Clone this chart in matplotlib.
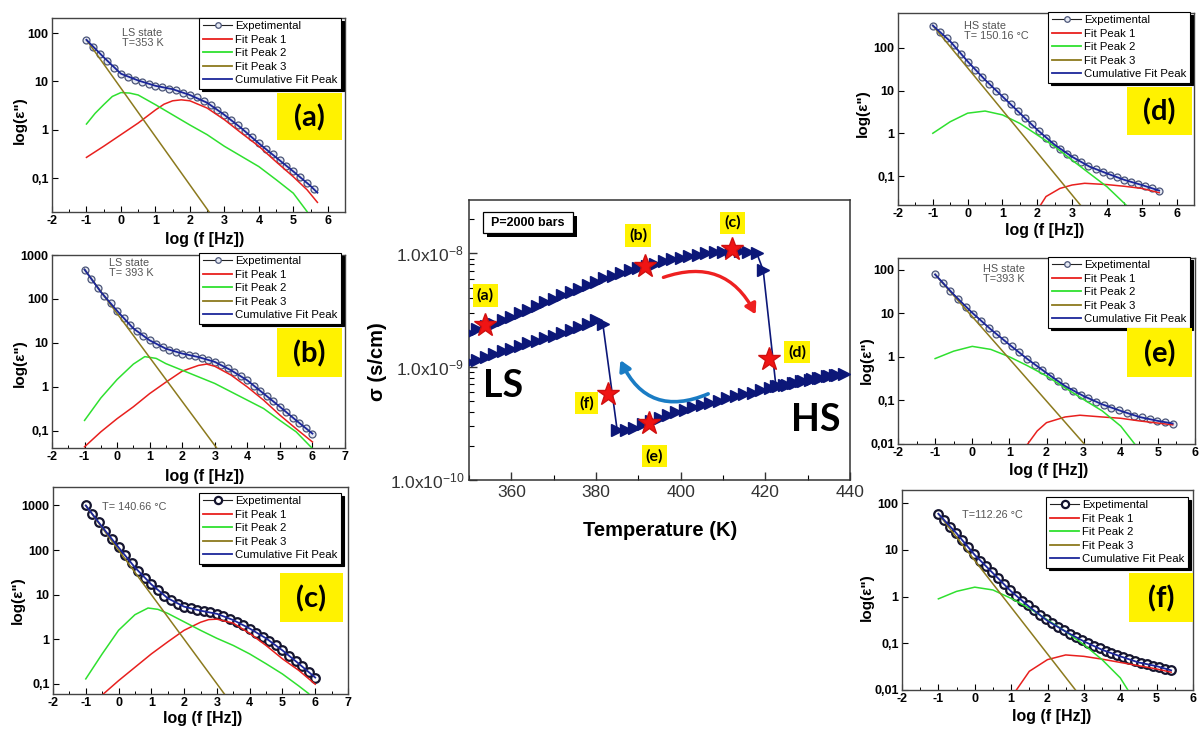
import numpy as np
import matplotlib
matplotlib.use('Agg')
import matplotlib.pyplot as plt
from matplotlib.patches import Rectangle, FancyArrowPatch
from matplotlib.lines import Line2D
from matplotlib.ticker import FixedLocator, FixedFormatter, MultipleLocator, LogLocator, NullFormatter

plt.rcParams['font.family'] = ['Liberation Sans', 'DejaVu Sans']
plt.rcParams['mathtext.fontset'] = 'custom'
plt.rcParams['mathtext.rm'] = 'Liberation Sans'
plt.rcParams['mathtext.it'] = 'Liberation Sans:italic'
plt.rcParams['mathtext.bf'] = 'Liberation Sans:bold'
plt.rcParams['axes.unicode_minus'] = False

W, H = 1201, 735

# +++ dielectric loss spectra, values are log10(eps'') +++

# (a) LS state, T=353 K
a_exp   = [1.86, 1.72, 1.57, 1.42, 1.28, 1.16, 1.09, 1.04, 0.99, 0.95, 0.91, 0.88, 0.85, 0.82, 0.77, 0.72, 0.67,
           0.60, 0.51, 0.41, 0.31, 0.20, 0.09, -0.03, -0.15, -0.28, -0.39, -0.51, -0.63, -0.74, -0.86, -0.98, -1.10, -1.23]
a_cum_x = [-1, -0.5, 0, 0.5, 1, 1.5, 2, 2.5, 3, 3.5, 4, 4.5, 5, 5.5, 5.7]
a_cum   = [1.86, 1.50, 1.16, 1.02, 0.91, 0.84, 0.72, 0.56, 0.31, 0.03, -0.28, -0.57, -0.86, -1.16, -1.30]
a_p1_x  = [-1, -0.5, 0, 0.5, 1, 1.25, 1.5, 1.75, 2, 2.5, 3, 3.5, 4, 4.5, 5, 5.4, 5.7]
a_p1    = [-0.57, -0.34, -0.10, 0.14, 0.41, 0.53, 0.60, 0.62, 0.60, 0.45, 0.21, -0.07, -0.34, -0.66, -0.97, -1.24, -1.50]
a_p2_x  = [-1, -0.75, -0.5, -0.25, 0, 0.25, 0.5, 1, 1.5, 2, 2.5, 3, 3.5, 4, 4.5, 5, 5.4]
a_p2    = [0.12, 0.34, 0.52, 0.69, 0.77, 0.76, 0.72, 0.52, 0.31, 0.10, -0.10, -0.34, -0.55, -0.76, -1.03, -1.31, -1.69]
a_p3_x  = [-1, 2.7]
a_p3    = [1.86, -1.84]

# (b) LS state, T=393 K
b_exp   = [2.67, 2.46, 2.26, 2.07, 1.90, 1.73, 1.57, 1.41, 1.27, 1.16, 1.06, 0.98, 0.90, 0.84, 0.80, 0.76, 0.73, 0.70,
           0.66, 0.62, 0.57, 0.50, 0.42, 0.33, 0.24, 0.15, 0.03, -0.09, -0.21, -0.33, -0.45, -0.57, -0.70, -0.82, -0.94, -1.06]
b_cum_x = [-1, -0.5, 0, 0.5, 1, 1.5, 2, 2.5, 3, 3.5, 4, 4.5, 5, 5.5, 6]
b_cum   = [2.67, 2.16, 1.73, 1.33, 1.06, 0.87, 0.76, 0.68, 0.57, 0.38, 0.15, -0.15, -0.45, -0.76, -1.06]
b_p1_x  = [-1, -0.5, 0, 0.5, 1, 1.5, 2, 2.5, 2.75, 3, 3.5, 4, 4.5, 5, 5.5, 6]
b_p1    = [-1.36, -1.02, -0.72, -0.45, -0.15, 0.11, 0.36, 0.49, 0.52, 0.47, 0.27, 0.0, -0.30, -0.64, -0.95, -1.25]
b_p2_x  = [-1, -0.5, 0, 0.5, 0.85, 1.2, 1.5, 2, 2.5, 3, 3.5, 4, 4.5, 5, 5.5, 6]
b_p2    = [-0.76, -0.25, 0.17, 0.52, 0.69, 0.65, 0.53, 0.38, 0.23, 0.08, -0.11, -0.30, -0.49, -0.76, -1.02, -1.40]
b_p3_x  = [-1, 3.2]
b_p3    = [2.67, -1.53]

# (c) T=140.66 C
c_exp   = [3.00, 2.81, 2.62, 2.43, 2.24, 2.06, 1.88, 1.70, 1.53, 1.37, 1.23, 1.10, 0.97, 0.88, 0.80, 0.73, 0.69, 0.66,
           0.63, 0.60, 0.57, 0.52, 0.46, 0.39, 0.32, 0.24, 0.15, 0.06, -0.03, -0.14, -0.25, -0.37, -0.49, -0.61, -0.74, -0.86]
c_cum_x = [-1, -0.5, 0, 0.5, 1, 1.5, 2, 2.5, 3, 3.5, 4, 4.5, 5, 5.5, 6]
c_cum   = [3.0, 2.52, 2.06, 1.61, 1.23, 0.92, 0.73, 0.64, 0.57, 0.43, 0.24, 0.02, -0.25, -0.55, -0.86]
c_p1_x  = [-1, -0.45, 0, 0.5, 1, 1.5, 2, 2.5, 2.75, 3, 3.5, 4, 4.5, 5, 5.5, 6]
c_p1    = [-1.55, -1.22, -0.93, -0.63, -0.33, -0.06, 0.20, 0.38, 0.44, 0.45, 0.36, 0.13, -0.14, -0.44, -0.70, -1.01]
c_p2_x  = [-1, -0.5, 0, 0.5, 0.9, 1.2, 1.5, 2, 2.5, 3, 3.5, 4, 4.5, 5, 5.5, 5.8]
c_p2    = [-0.89, -0.33, 0.20, 0.55, 0.70, 0.67, 0.58, 0.39, 0.20, 0.02, -0.14, -0.33, -0.55, -0.78, -1.05, -1.22]
c_p3_x  = [-1, 3.35]
c_p3    = [3.0, -1.35]

# (d) HS state, T=150.16 C
d_exp   = [2.52, 2.37, 2.22, 2.06, 1.86, 1.67, 1.49, 1.32, 1.15, 0.99, 0.84, 0.68, 0.52, 0.36, 0.21, 0.05, -0.10,
           -0.24, -0.37, -0.48, -0.58, -0.68, -0.77, -0.84, -0.91, -0.97, -1.03, -1.09, -1.14, -1.19, -1.23, -1.28, -1.34]
d_cum_x = [-1, -0.5, 0, 0.5, 1, 1.5, 2, 2.5, 3, 3.5, 4, 4.5, 5, 5.5]
d_cum   = [2.52, 2.15, 1.68, 1.25, 0.86, 0.47, 0.08, -0.27, -0.55, -0.78, -0.94, -1.09, -1.21, -1.34]
d_p1_x  = [2.0, 2.25, 2.65, 3.0, 3.36, 4.0, 4.5, 5.0, 5.5]
d_p1    = [-1.80, -1.48, -1.29, -1.21, -1.17, -1.20, -1.24, -1.29, -1.39]
d_p2_x  = [-1, -0.5, 0, 0.5, 1, 1.5, 2, 2.5, 3, 3.5, 4, 4.5, 4.7]
d_p2    = [0.0, 0.27, 0.47, 0.52, 0.43, 0.23, -0.04, -0.31, -0.63, -0.94, -1.25, -1.64, -1.80]
d_p3_x  = [-1, 3.4]
d_p3    = [2.52, -1.84]

# (e) HS state, T=393 K
e_exp   = [1.89, 1.69, 1.51, 1.33, 1.15, 0.99, 0.83, 0.67, 0.52, 0.38, 0.24, 0.10, -0.05, -0.18, -0.30, -0.43,
           -0.55, -0.67, -0.78, -0.87, -0.95, -1.03, -1.10, -1.17, -1.23, -1.29, -1.35, -1.39, -1.43, -1.47, -1.50, -1.53]
e_cum_x = [-1, -0.5, 0, 0.5, 1, 1.5, 2, 2.5, 3, 3.5, 4, 4.5, 5, 5.4]
e_cum   = [1.89, 1.43, 1.01, 0.63, 0.28, -0.06, -0.37, -0.67, -0.90, -1.09, -1.24, -1.38, -1.47, -1.53]
e_p1_x  = [1.45, 1.75, 2.0, 2.5, 2.9, 3.5, 4.0, 4.5, 5.0, 5.4]
e_p1    = [-2.05, -1.70, -1.51, -1.38, -1.34, -1.38, -1.41, -1.47, -1.52, -1.56]
e_p2_x  = [-1, -0.5, 0, 0.5, 1, 1.5, 2, 2.5, 3, 3.5, 4, 4.45]
e_p2    = [-0.04, 0.13, 0.24, 0.17, 0.0, -0.21, -0.44, -0.71, -0.98, -1.24, -1.59, -2.08]
e_p3_x  = [-1, 3.1]
e_p3    = [1.89, -2.08]

# (f) T=112.26 C
f_exp   = [1.77, 1.63, 1.49, 1.36, 1.21, 1.06, 0.90, 0.77, 0.65, 0.52, 0.39, 0.26, 0.13, 0.02, -0.09, -0.19, -0.29,
           -0.39, -0.49, -0.57, -0.65, -0.72, -0.80, -0.86, -0.93, -0.99, -1.05, -1.11, -1.16, -1.21, -1.26, -1.30,
           -1.34, -1.39, -1.42, -1.45, -1.48, -1.51, -1.55, -1.58]
f_cum_x = [-1, -0.5, 0, 0.5, 1, 1.5, 2, 2.5, 3, 3.5, 4, 4.5, 5, 5.4]
f_cum   = [1.77, 1.35, 0.89, 0.50, 0.11, -0.22, -0.52, -0.75, -0.96, -1.14, -1.28, -1.41, -1.49, -1.58]
f_p1_x  = [1.1, 1.5, 2.0, 2.5, 3.0, 3.5, 4.0, 4.5, 5.0, 5.4]
f_p1    = [-2.05, -1.60, -1.35, -1.25, -1.28, -1.34, -1.41, -1.48, -1.55, -1.62]
f_p2_x  = [-1, -0.5, 0, 0.5, 1, 1.5, 2, 2.5, 3, 3.5, 4, 4.25]
f_p2    = [-0.05, 0.11, 0.20, 0.14, -0.04, -0.25, -0.50, -0.75, -1.03, -1.35, -1.74, -2.05]
f_p3_x  = [-1, 2.85]
f_p3    = [1.77, -2.08]

legendNames = ['Expetimental', 'Fit Peak 1', 'Fit Peak 2', 'Fit Peak 3', 'Cumulative Fit Peak']

# +++ conductivity loop, values are log10(sigma) +++
upT   = [350, 352, 354, 356, 358, 360, 362, 364, 366, 368, 370, 372, 374, 376, 378, 380, 382, 384, 386, 388,
         390, 392, 394, 396, 398, 400, 402, 404, 406, 408, 410, 412, 414, 416, 418, 419.5,
         422.5, 424.5, 426.5, 428.5, 430.5, 432.5, 434.5, 436.5, 438.5]
upSig = [-8.70, -8.67, -8.64, -8.62, -8.59, -8.56, -8.53, -8.50, -8.46, -8.43, -8.40, -8.37, -8.34, -8.31, -8.28,
         -8.25, -8.22, -8.20, -8.17, -8.15, -8.13, -8.11, -8.09, -8.07, -8.05, -8.04, -8.02, -8.01, -8.00, -7.99,
         -7.985, -7.98, -7.98, -7.99, -8.00, -8.15,
         -9.17, -9.16, -9.145, -9.13, -9.115, -9.10, -9.085, -9.075, -9.065]
loT   = [350, 352, 354, 356, 358, 360, 362, 364, 366, 368, 370, 372, 374, 376, 378, 380, 381.6,
         385, 387, 389, 391, 393, 395, 397, 399, 401, 403, 405, 407, 409, 411, 413, 415, 417, 419, 421, 423,
         425, 427, 429, 431, 433, 435, 437]
loSig = [-8.96, -8.94, -8.91, -8.89, -8.86, -8.84, -8.82, -8.79, -8.77, -8.75, -8.73, -8.70, -8.68, -8.65, -8.62,
         -8.59, -8.62,
         -9.56, -9.56, -9.54, -9.51, -9.48, -9.45, -9.43, -9.40, -9.38, -9.36, -9.34, -9.32, -9.30, -9.28, -9.26,
         -9.24, -9.23, -9.21, -9.19, -9.17, -9.16, -9.14, -9.13, -9.11, -9.10, -9.08, -9.07]
starT    = [353.8, 391.6, 412.2, 420.8, 392.6, 382.8]
starSig  = [-8.63, -8.11, -7.96, -8.93, -9.50, -9.24]
tagNames = ['(a)', '(b)', '(c)', '(d)', '(e)', '(f)']
tagT     = [353.8, 390.0, 412.2, 427.5, 393.8, 377.7]
tagSig   = [-8.37, -7.84, -7.73, -8.87, -9.79, -9.32]

cRed   = '#e8201e'
cGreen = '#2fe02f'
cOlive = '#8c7a1e'
cBlue  = '#1b269a'
cYell  = '#fff200'

fig = plt.figure(figsize=(W / 100, H / 100), dpi=100)


def rect(x0, y0, x1, y1):
  return [x0 / W, 1 - y1 / H, (x1 - x0) / W, (y1 - y0) / H]


def px(x, y):
  return x / W, 1 - y / H


def tag_box(x0, y0, x1, y1, txt):
  fig.add_artist(Rectangle(px(x0, y1), (x1 - x0) / W, (y1 - y0) / H, transform=fig.transFigure,
                           facecolor=cYell, edgecolor='none', zorder=5))
  fig.text(*px((x0 + x1) / 2, (y0 + y1) / 2 + 1), txt, ha='center', va='center', fontsize=21,
           fontweight='bold', family=['Lato', 'DejaVu Sans'], zorder=6)


yLabelMap = {0.01: '0,01', 0.1: '0,1', 1: '1', 10: '10', 100: '100', 1000: '1000'}


def spectrum(box, xEnd, exp, cumX, cum, p1X, p1, p2X, p2, p3X, p3, xlim, ylim, yticks, xmax_tick,
             note, noteXY, legXY, tag, tagPx, xlabXY, ylabXY, heavy=False):
  x0, y0, x1, y1 = box
  ax = fig.add_axes(rect(*box))
  ax.set_yscale('log')
  ex = np.linspace(-1, xEnd, len(exp))
  if heavy:
    mk = dict(marker='o', ms=6.2, mew=1.6, mec='#14142e', mfc='white')
  else:
    mk = dict(marker='o', ms=5, mew=0.9, mec='#4b5578', mfc='#e4e8f2')
  ax.plot(ex, 10 ** np.array(exp), '-', color='#222222', lw=0.6, zorder=2, **mk)
  ax.plot(p1X, 10 ** np.array(p1), color=cRed, lw=1.1, zorder=3)
  ax.plot(p2X, 10 ** np.array(p2), color=cGreen, lw=1.1, zorder=3)
  ax.plot(p3X, 10 ** np.array(p3), color=cOlive, lw=1.1, zorder=3)
  ax.plot(cumX, 10 ** np.array(cum), color=cBlue, lw=1.3, zorder=4)
  ax.set_xlim(*xlim)
  ax.set_ylim(*ylim)
  ax.set_xticks(list(range(-2, xmax_tick + 1)))
  ax.xaxis.set_minor_locator(MultipleLocator(0.5))
  ax.yaxis.set_major_locator(FixedLocator(yticks))
  ax.yaxis.set_major_formatter(FixedFormatter([yLabelMap[t] for t in yticks]))
  ax.yaxis.set_minor_locator(FixedLocator([]))
  ax.tick_params(direction='in', length=4, width=0.8, labelsize=9, pad=2.5)
  ax.tick_params(which='minor', direction='in', length=2.5, width=0.7)
  for lbl in ax.get_xticklabels() + ax.get_yticklabels():
    lbl.set_fontweight('bold')
  for s in ax.spines.values():
    s.set_color('#444444')
    s.set_linewidth(1.0)
  handles = [Line2D([], [], color='#222222', lw=0.8, **dict(mk, ms=mk['ms'] - 1)),
             Line2D([], [], color=cRed, lw=1.3),
             Line2D([], [], color=cGreen, lw=1.3),
             Line2D([], [], color=cOlive, lw=1.3),
             Line2D([], [], color=cBlue, lw=1.3)]
  ax_x = (legXY[0] - x0) / (x1 - x0)
  ax_y = (y1 - legXY[1]) / (y1 - y0)
  leg = ax.legend(handles, legendNames, loc='upper right', bbox_to_anchor=(ax_x, ax_y), borderaxespad=0,
                  fontsize=8.2, labelspacing=0.3, borderpad=0.3, handlelength=2.6, handletextpad=0.25,
                  fancybox=False, framealpha=1, edgecolor='black', shadow={'color': 'black', 'alpha': 1})
  leg.get_frame().set_linewidth(0.8)
  leg.set_zorder(6)
  fig.text(*px(*noteXY), note, ha='left', va='center', fontsize=7.8, color='#555555', linespacing=1.1)
  fig.text(*px(*xlabXY), 'log (f [Hz])', ha='center', va='center', fontsize=11.5, fontweight='bold')
  fig.text(*px(*ylabXY), 'log(ε")', ha='center', va='center', fontsize=11, fontweight='bold', rotation=90)
  tag_box(*tagPx, tag)
  return ax


spectrum((52, 18, 345, 212), 5.6, a_exp, a_cum_x, a_cum, a_p1_x, a_p1, a_p2_x, a_p2, a_p3_x, a_p3,
         (-2, 6.5), (0.02, 205), [0.1, 1, 10, 100], 6,
         'LS state\nT=353 K', (122, 38), (341, 18), '(a)', (277, 93, 342, 140), (205, 240), (20, 120))
spectrum((52, 255, 345, 448), 6.0, b_exp, b_cum_x, b_cum, b_p1_x, b_p1, b_p2_x, b_p2, b_p3_x, b_p3,
         (-2, 7), (0.041, 1000), [0.1, 1, 10, 100, 1000], 7,
         'LS state\nT= 393 K', (109, 268), (341, 253), '(b)', (277, 328, 342, 377), (205, 477), (20, 363))
spectrum((53, 487, 348, 694), 6.0, c_exp, c_cum_x, c_cum, c_p1_x, c_p1, c_p2_x, c_p2, c_p3_x, c_p3,
         (-2, 7), (0.059, 2600), [0.1, 1, 10, 100, 1000], 7,
         'T= 140.66 °C', (102, 507), (341, 493), '(c)', (280, 573, 343, 622), (203, 719), (18, 600), heavy=True)
spectrum((898, 13, 1194, 205), 5.5, d_exp, d_cum_x, d_cum, d_p1_x, d_p1, d_p2_x, d_p2, d_p3_x, d_p3,
         (-2, 6.5), (0.021, 650), [0.1, 1, 10, 100], 6,
         'HS state\nT= 150.16 °C', (964, 31), (1190, 12), '(d)', (1127, 87, 1192, 135), (1045, 231), (863, 113))
spectrum((898, 258, 1195, 444), 5.4, e_exp, e_cum_x, e_cum, e_p1_x, e_p1, e_p2_x, e_p2, e_p3_x, e_p3,
         (-2, 6), (0.01, 185), [0.01, 0.1, 1, 10, 100], 6,
         'HS state\nT=393 K', (983, 274), (1190, 257), '(e)', (1127, 328, 1192, 377), (1049, 470), (867, 360))
spectrum((902, 490, 1193, 690), 5.4, f_exp, f_cum_x, f_cum, f_p1_x, f_p1, f_p2_x, f_p2, f_p3_x, f_p3,
         (-2, 6), (0.01, 190), [0.01, 0.1, 1, 10, 100], 6,
         'T=112.26 °C', (962, 515), (1188, 497), '(f)', (1129, 573, 1193, 622), (1052, 716), (867, 597), heavy=True)

# +++ centre: conductivity hysteresis +++

axc = fig.add_axes(rect(469, 200, 850, 480))
axc.set_yscale('log')
cNavy = '#0c1778'
axc.plot(upT, 10 ** np.array(upSig), '-', color=cNavy, lw=1.2, marker='>', ms=8.5, zorder=3)
axc.plot(loT, 10 ** np.array(loSig), '-', color=cNavy, lw=1.2, marker='>', ms=8.5, zorder=3)
axc.plot(starT, 10 ** np.array(starSig), '*', color='#f01414', ms=17, mec='#d01010', zorder=6, linestyle='none')
for name, t, s in zip(tagNames, tagT, tagSig):
  axc.text(t, 10 ** s, name, ha='center', va='center', fontsize=11.5, fontweight='bold',
           family=['Lato', 'DejaVu Sans'], zorder=7,
           bbox=dict(boxstyle='square,pad=0.25', facecolor=cYell, edgecolor='none'))
axc.add_patch(FancyArrowPatch((395.3, 10 ** -8.22), (418.0, 10 ** -8.56), connectionstyle='arc3,rad=-0.45',
                              arrowstyle='-|>,head_length=6,head_width=3.5', color='#ee2020', lw=2.4,
                              zorder=5))
axc.add_patch(FancyArrowPatch((407.1, 10 ** -9.23), (385.5, 10 ** -8.92), connectionstyle='arc3,rad=-0.5',
                              arrowstyle='-|>,head_length=6,head_width=3.5', color='#1a7cc4', lw=2.6,
                              zorder=5))
axc.text(358, 10 ** -9.17, 'LS', ha='center', va='center', fontsize=27, fontweight='bold',
         family=['Lato', 'DejaVu Sans'])
axc.text(432, 10 ** -9.47, 'HS', ha='center', va='center', fontsize=27, fontweight='bold',
         family=['Lato', 'DejaVu Sans'])
axc.set_xlim(350, 440)
axc.set_ylim(1e-10, 2.96e-8)
axc.set_xticks([360, 380, 400, 420, 440])
axc.xaxis.set_minor_locator(MultipleLocator(10))
axc.yaxis.set_major_locator(FixedLocator([1e-10, 1e-9, 1e-8]))
axc.yaxis.set_major_formatter(FixedFormatter([r'1.0x10$^{-10}$', r'1.0x10$^{-9}$', r'1.0x10$^{-8}$']))
axc.yaxis.set_minor_locator(LogLocator(base=10, subs=np.arange(2, 10)))
axc.yaxis.set_minor_formatter(NullFormatter())
axc.tick_params(direction='in', length=6, width=1, labelsize=12.5, colors='#333333')
axc.tick_params(which='minor', direction='in', length=3.5, width=0.8)
for s in axc.spines.values():
  s.set_color('#333333')
  s.set_linewidth(1.1)
fig.text(*px(378, 362), 'σ (s/cm)', ha='center', va='center', rotation=90, fontsize=14.5, fontweight='bold')
fig.text(*px(660, 531), 'Temperature (K)', ha='center', va='center', fontsize=14.5, fontweight='bold')

# pressure box with shadow
fig.add_artist(Rectangle(px(487, 237), 90 / W, 21 / H, transform=fig.transFigure, facecolor='black',
                         edgecolor='none', zorder=5))
fig.add_artist(Rectangle(px(483, 233), 90 / W, 21 / H, transform=fig.transFigure, facecolor='white',
                         edgecolor='black', lw=0.9, zorder=5))
fig.text(*px(528, 223), 'P=2000 bars', ha='center', va='center', fontsize=9, fontweight='bold', zorder=6)

fig.savefig('out.png', dpi=100)
